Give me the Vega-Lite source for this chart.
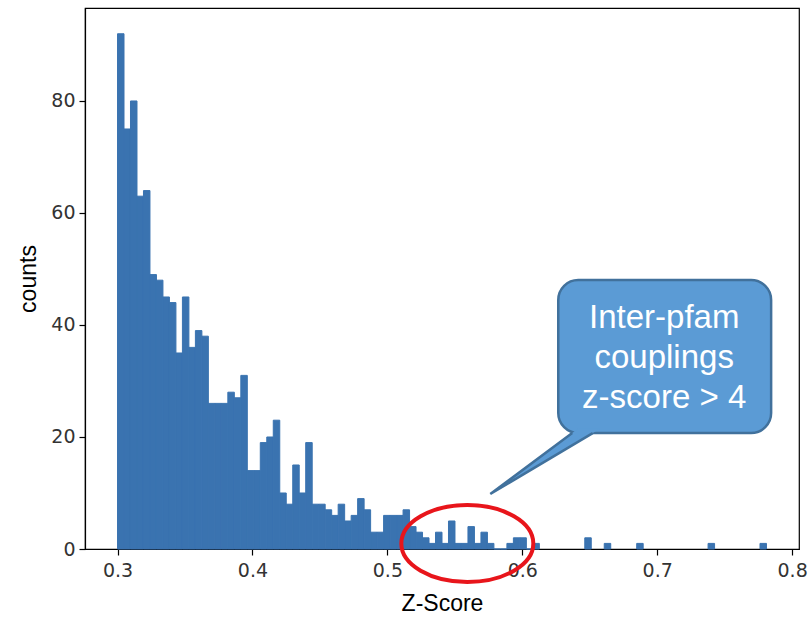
{
  "$schema": "https://vega.github.io/schema/vega-lite/v6.json",
  "width": 714,
  "height": 541,
  "autosize": {"type": "none"},
  "padding": {"left": 85, "top": 8, "right": 10, "bottom": 73},
  "background": "#ffffff",
  "config": {
    "view": {"stroke": "#000000", "strokeWidth": 1.2},
    "axis": {
      "grid": false,
      "domainColor": "#000000",
      "domainWidth": 1.2,
      "tickColor": "#000000",
      "tickWidth": 1.2,
      "tickSize": 6,
      "labelFont": "DejaVu Sans",
      "labelFontSize": 19,
      "labelColor": "#333333",
      "labelFlush": false,
      "labelOverlap": false,
      "titleFont": "Liberation Sans",
      "titleFontSize": 23,
      "titleFontWeight": "normal",
      "titleColor": "#000000"
    }
  },
  "datasets": {
    "bars": [
      {"z0": 0.30000, "z1": 0.30481, "count": 92},
      {"z0": 0.30481, "z1": 0.30962, "count": 75},
      {"z0": 0.30962, "z1": 0.31443, "count": 80},
      {"z0": 0.31443, "z1": 0.31924, "count": 63},
      {"z0": 0.31924, "z1": 0.32405, "count": 64},
      {"z0": 0.32405, "z1": 0.32886, "count": 49},
      {"z0": 0.32886, "z1": 0.33367, "count": 48},
      {"z0": 0.33367, "z1": 0.33848, "count": 45},
      {"z0": 0.33848, "z1": 0.34329, "count": 44},
      {"z0": 0.34329, "z1": 0.34810, "count": 35},
      {"z0": 0.34810, "z1": 0.35291, "count": 45},
      {"z0": 0.35291, "z1": 0.35772, "count": 36},
      {"z0": 0.35772, "z1": 0.36253, "count": 39},
      {"z0": 0.36253, "z1": 0.36734, "count": 38},
      {"z0": 0.36734, "z1": 0.37215, "count": 26},
      {"z0": 0.37215, "z1": 0.37696, "count": 26},
      {"z0": 0.37696, "z1": 0.38177, "count": 26},
      {"z0": 0.38177, "z1": 0.38658, "count": 28},
      {"z0": 0.38658, "z1": 0.39139, "count": 27},
      {"z0": 0.39139, "z1": 0.39620, "count": 31},
      {"z0": 0.39620, "z1": 0.40101, "count": 14},
      {"z0": 0.40101, "z1": 0.40582, "count": 14},
      {"z0": 0.40582, "z1": 0.41063, "count": 19},
      {"z0": 0.41063, "z1": 0.41544, "count": 20},
      {"z0": 0.41544, "z1": 0.42025, "count": 23},
      {"z0": 0.42025, "z1": 0.42506, "count": 10},
      {"z0": 0.42506, "z1": 0.42987, "count": 8},
      {"z0": 0.42987, "z1": 0.43468, "count": 15},
      {"z0": 0.43468, "z1": 0.43949, "count": 10},
      {"z0": 0.43949, "z1": 0.44430, "count": 19},
      {"z0": 0.44430, "z1": 0.44911, "count": 8},
      {"z0": 0.44911, "z1": 0.45392, "count": 8},
      {"z0": 0.45392, "z1": 0.45873, "count": 7},
      {"z0": 0.45873, "z1": 0.46354, "count": 6},
      {"z0": 0.46354, "z1": 0.46835, "count": 8},
      {"z0": 0.46835, "z1": 0.47316, "count": 5},
      {"z0": 0.47316, "z1": 0.47797, "count": 6},
      {"z0": 0.47797, "z1": 0.48278, "count": 9},
      {"z0": 0.48278, "z1": 0.48759, "count": 7},
      {"z0": 0.48759, "z1": 0.49240, "count": 3},
      {"z0": 0.49240, "z1": 0.49721, "count": 3},
      {"z0": 0.49721, "z1": 0.50202, "count": 6},
      {"z0": 0.50202, "z1": 0.50683, "count": 6},
      {"z0": 0.50683, "z1": 0.51164, "count": 6},
      {"z0": 0.51164, "z1": 0.51645, "count": 7},
      {"z0": 0.51645, "z1": 0.52126, "count": 4},
      {"z0": 0.52126, "z1": 0.52607, "count": 3},
      {"z0": 0.52607, "z1": 0.53088, "count": 2},
      {"z0": 0.53088, "z1": 0.53569, "count": 1},
      {"z0": 0.53569, "z1": 0.54050, "count": 3},
      {"z0": 0.54050, "z1": 0.54531, "count": 1},
      {"z0": 0.54531, "z1": 0.55012, "count": 5},
      {"z0": 0.55012, "z1": 0.55493, "count": 1},
      {"z0": 0.55493, "z1": 0.55974, "count": 1},
      {"z0": 0.55974, "z1": 0.56455, "count": 4},
      {"z0": 0.56455, "z1": 0.56936, "count": 1},
      {"z0": 0.56936, "z1": 0.57417, "count": 3},
      {"z0": 0.57417, "z1": 0.57898, "count": 1},
      {"z0": 0.57898, "z1": 0.58379, "count": 0},
      {"z0": 0.58379, "z1": 0.58860, "count": 0},
      {"z0": 0.58860, "z1": 0.59341, "count": 1},
      {"z0": 0.59341, "z1": 0.59822, "count": 2},
      {"z0": 0.59822, "z1": 0.60303, "count": 2},
      {"z0": 0.60303, "z1": 0.60784, "count": 0},
      {"z0": 0.60784, "z1": 0.61265, "count": 1},
      {"z0": 0.64632, "z1": 0.65113, "count": 2},
      {"z0": 0.66075, "z1": 0.66556, "count": 1},
      {"z0": 0.68480, "z1": 0.68961, "count": 1},
      {"z0": 0.73771, "z1": 0.74252, "count": 1},
      {"z0": 0.77619, "z1": 0.78100, "count": 1}
    ],
    "tail": [
      {"z": 0.57630, "c": 9.82, "c2": 9.82},
      {"z": 0.64148, "c": 21.5, "c2": 19.16},
      {"z": 0.65778, "c": 21.5, "c2": 21.5}
    ],
    "tailEdge": [
      {"z": 0.63702, "c": 20.7, "k": 1},
      {"z": 0.57630, "c": 9.82, "k": 2},
      {"z": 0.65220, "c": 20.7, "k": 3}
    ],
    "one": [{"label": "Inter-pfam\ncouplings\nz-score > 4"}]
  },
  "layer": [
    {
      "data": {"name": "bars"},
      "mark": {"type": "rect", "color": "#3a73b0", "stroke": "#3a73b0", "strokeWidth": 1},
      "encoding": {
        "x": {
          "field": "z0",
          "type": "quantitative",
          "scale": {"domain": [0.2759, 0.8051], "nice": false, "zero": false},
          "axis": {"values": [0.3, 0.4, 0.5, 0.6, 0.7, 0.8], "format": ".1f", "labelPadding": 6, "titlePadding": 12},
          "title": "Z-Score"
        },
        "x2": {"field": "z1"},
        "y": {
          "field": "count",
          "type": "quantitative",
          "scale": {"domain": [0, 96.6], "nice": false},
          "axis": {"values": [0, 20, 40, 60, 80], "labelPadding": 4, "titlePadding": 10},
          "title": "counts"
        },
        "y2": {"datum": 0}
      }
    },
    {
      "data": {"name": "one"},
      "mark": {"type": "rect", "fill": "#5b9bd5", "stroke": "#41719c", "strokeWidth": 2.5, "cornerRadius": 20},
      "encoding": {
        "x": {"datum": 0.62667, "type": "quantitative", "title": "Z-Score"},
        "x2": {"datum": 0.78444},
        "y": {"datum": 48.04, "type": "quantitative", "title": "counts"},
        "y2": {"datum": 20.7}
      }
    },
    {
      "data": {"name": "tail"},
      "mark": {"type": "area", "fill": "#5b9bd5", "opacity": 1},
      "encoding": {
        "x": {"field": "z", "type": "quantitative", "title": "Z-Score"},
        "y": {"field": "c", "type": "quantitative", "title": "counts"},
        "y2": {"field": "c2"}
      }
    },
    {
      "data": {"name": "tailEdge"},
      "mark": {"type": "line", "stroke": "#41719c", "strokeWidth": 2.5, "strokeJoin": "miter"},
      "encoding": {
        "x": {"field": "z", "type": "quantitative", "title": "Z-Score"},
        "y": {"field": "c", "type": "quantitative", "title": "counts"},
        "order": {"field": "k"}
      }
    },
    {
      "data": {"name": "one"},
      "mark": {"type": "text", "lineBreak": "\n", "lineHeight": 40, "font": "Liberation Sans", "fontSize": 33, "color": "#ffffff", "align": "center", "baseline": "alphabetic"},
      "encoding": {
        "x": {"datum": 0.70519, "type": "quantitative", "title": "Z-Score"},
        "y": {"datum": 39.46, "type": "quantitative", "title": "counts"},
        "text": {"field": "label"}
      }
    },
    {
      "data": {"name": "one"},
      "mark": {"type": "point", "shape": "M -1 0 A 1 0.583 0 1 1 1 0 A 1 0.583 0 1 1 -1 0 Z", "size": 17424, "filled": false, "stroke": "#e8151b", "strokeWidth": 4, "opacity": 1},
      "encoding": {
        "x": {"datum": 0.55926, "type": "quantitative", "title": "Z-Score"},
        "y": {"datum": 0.98, "type": "quantitative", "title": "counts"}
      }
    }
  ]
}
